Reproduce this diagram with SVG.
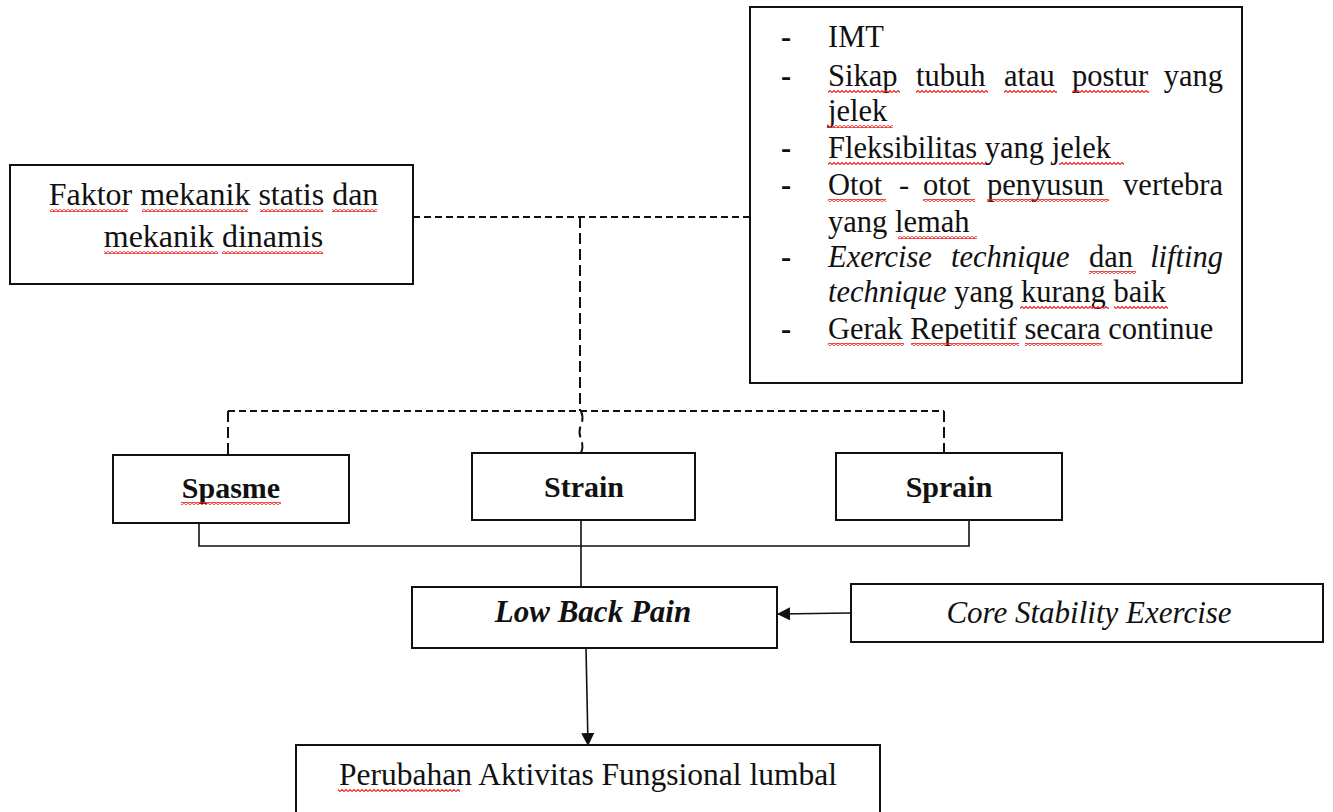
<svg xmlns="http://www.w3.org/2000/svg" width="1333" height="812" viewBox="0 0 1333 812">
<style>
.box{fill:#fff;stroke:#111;stroke-width:2}
.t{font-family:"Liberation Serif","Times New Roman",serif;fill:#111}
.c{text-anchor:middle}
.e{text-anchor:end}
.b{font-weight:bold}
.solid{fill:none;stroke:#111;stroke-width:1.6}
.dash{fill:none;stroke:#111;stroke-width:2;stroke-dasharray:7 4}
.vdash{fill:none;stroke:#111;stroke-width:2;stroke-dasharray:11 5}
.sq{fill:url(#squig)}
</style>
<defs>
<pattern id="squig" patternUnits="userSpaceOnUse" width="4" height="3">
<path d="M0 2.5 L2 0.5 L4 2.5" fill="none" stroke="#f0201a" stroke-width="1.1"/>
</pattern>
<marker id="arr" markerWidth="13" markerHeight="13" refX="12" refY="6.5" orient="auto" markerUnits="userSpaceOnUse">
<path d="M0 0 L13 6.5 L0 13 Z" fill="#111"/>
</marker>
</defs>
<rect width="1333" height="812" fill="#fff"/>

<g id="connectors">
<path class="dash" d="M413 217 H750"/>
<path class="vdash" d="M580 217 V411"/>
<path class="dash" d="M228 411 H944"/>
<path class="vdash" d="M228 411 V456"/>
<path class="vdash" d="M944 411 V454"/>
<path class="vdash" d="M581 411 q3 7 0 14 q-3 7 0 14 q3 7 0 14"/>
<path class="solid" d="M199 523 V546 H969 V520"/>
<path class="solid" d="M581 520 V587"/>
<path class="solid" d="M851 613 L778 614" marker-end="url(#arr)"/>
<path class="solid" d="M586 648 L588 745" marker-end="url(#arr)"/>
</g>

<g id="faktor">
<rect class="box" x="10" y="165" width="403" height="119"/>
<text class="t c" x="213.5" y="205" font-size="32">Faktor mekanik statis dan</text>
<text class="t c" x="213.5" y="247" font-size="32">mekanik dinamis</text>
<rect class="sq" x="50" y="209" width="78" height="3"/>
<rect class="sq" x="142" y="209" width="106" height="3"/>
<rect class="sq" x="260" y="209" width="63" height="3"/>
<rect class="sq" x="332" y="209" width="45" height="3"/>
<rect class="sq" x="104" y="251" width="114" height="3"/>
<rect class="sq" x="222" y="251" width="101" height="3"/>
</g>

<g id="faktor-list">
<rect class="box" x="750" y="7" width="492" height="376"/>
<g class="t" font-size="30.5">
<text class="b" x="781" y="47">-</text>
<text class="b" x="781" y="86">-</text>
<text class="b" x="781" y="158">-</text>
<text class="b" x="781" y="195">-</text>
<text class="b" x="781" y="267">-</text>
<text class="b" x="781" y="339">-</text>
<text x="828" y="47">IMT</text>
<text x="828" y="86">Sikap</text>
<text x="916" y="86">tubuh</text>
<text x="1004" y="86">atau</text>
<text x="1072" y="86">postur</text>
<text class="e" x="1223" y="86">yang</text>
<text x="828" y="121">jelek</text>
<text x="828" y="158">Fleksibilitas yang jelek</text>
<text x="828" y="195">Otot</text>
<text x="899" y="195">-</text>
<text x="923" y="195">otot</text>
<text x="987" y="195">penyusun</text>
<text class="e" x="1223" y="195">vertebra</text>
<text x="828" y="232">yang lemah</text>
<text x="828" y="267" font-style="italic">Exercise</text>
<text x="951" y="267" font-style="italic">technique</text>
<text x="1089" y="267">dan</text>
<text class="e" x="1223" y="267" font-style="italic">lifting</text>
<text x="828" y="302"><tspan font-style="italic">technique</tspan> yang kurang baik</text>
<text x="828" y="339">Gerak Repetitif secara continue</text>
</g>
<rect class="sq" x="828" y="90" width="72" height="3"/>
<rect class="sq" x="916" y="90" width="72" height="3"/>
<rect class="sq" x="1004" y="90" width="53" height="3"/>
<rect class="sq" x="1072" y="90" width="77" height="3"/>
<rect class="sq" x="828" y="125" width="65" height="3"/>
<rect class="sq" x="828" y="162" width="158" height="3"/>
<rect class="sq" x="1059" y="162" width="65" height="3"/>
<rect class="sq" x="828" y="199" width="58" height="3"/>
<rect class="sq" x="923" y="199" width="52" height="3"/>
<rect class="sq" x="987" y="199" width="122" height="3"/>
<rect class="sq" x="898" y="236" width="79" height="3"/>
<rect class="sq" x="1089" y="271" width="47" height="3"/>
<rect class="sq" x="1020" y="306" width="89" height="3"/>
<rect class="sq" x="1114" y="306" width="54" height="3"/>
<rect class="sq" x="828" y="343" width="76" height="3"/>
<rect class="sq" x="911" y="343" width="108" height="3"/>
<rect class="sq" x="1025" y="343" width="77" height="3"/>
</g>

<g id="spasme">
<rect class="box" x="113" y="455" width="236" height="68"/>
<text class="t c b" x="231" y="498" font-size="30">Spasme</text>
<rect class="sq" x="181" y="502" width="100" height="3"/>
</g>

<g id="strain">
<rect class="box" x="472" y="453" width="223" height="67"/>
<text class="t c b" x="584" y="497" font-size="30">Strain</text>
</g>

<g id="sprain">
<rect class="box" x="836" y="453" width="226" height="67"/>
<text class="t c b" x="949" y="497" font-size="30">Sprain</text>
</g>

<g id="lbp">
<rect class="box" x="412" y="587" width="365" height="61"/>
<text class="t c b" x="593" y="622" font-size="31" font-style="italic">Low Back Pain</text>
</g>

<g id="core">
<rect class="box" x="851" y="584" width="472" height="58"/>
<text class="t c" x="1089" y="623" font-size="31" font-style="italic">Core Stability Exercise</text>
</g>

<g id="perubahan">
<rect class="box" x="296" y="745" width="584" height="80"/>
<text class="t c" x="588" y="785" font-size="31.5">Perubahan Aktivitas Fungsional lumbal</text>
<rect class="sq" x="338" y="789" width="122" height="3"/>
</g>
</svg>
